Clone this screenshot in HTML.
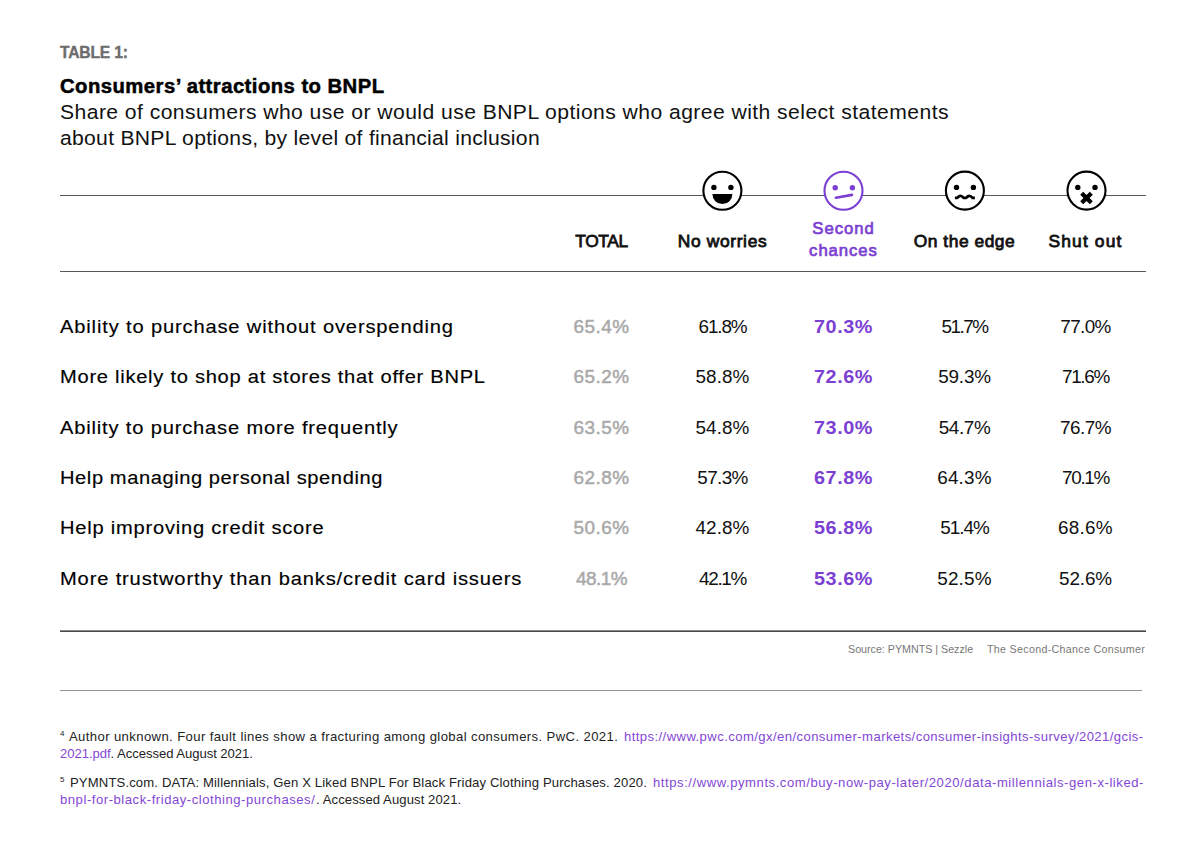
<!DOCTYPE html>
<html>
<head>
<meta charset="utf-8">
<style>
html,body{margin:0;padding:0;background:#fff;}
body{width:1196px;height:858px;position:relative;overflow:hidden;font-family:"Liberation Sans",sans-serif;color:#111;}
.a{position:absolute;white-space:nowrap;line-height:1;}
.b{font-weight:bold;}
.hr{position:absolute;height:1px;}
.c{text-align:center;width:121px;}
.p{color:#7c3fd3;}
.n.p{letter-spacing:0.5px;transform:scaleX(1.05);transform-origin:50% 0;}
.n.g{letter-spacing:0.45px;-webkit-text-stroke:0.5px #a9a9a9;}
.h{-webkit-text-stroke:0.8px #111;}
.h.p{-webkit-text-stroke:0.7px #7c3fd3;}
.g{color:#a9a9a9;}
.row{position:absolute;left:0;width:1196px;height:20px;}
.lbl{position:absolute;left:60px;top:0;font-size:18.3px;letter-spacing:0.7px;line-height:20px;white-space:nowrap;color:#000;-webkit-text-stroke:0.15px #000;transform:scaleX(1.1);transform-origin:0 0;}
.n{position:absolute;top:0;width:121px;text-align:center;font-size:18.9px;line-height:20px;white-space:nowrap;}
.fn{position:absolute;left:60px;font-size:13.1px;line-height:17px;color:#222;white-space:nowrap;letter-spacing:0.2px;}
.fn.sp{font-size:8px;line-height:8px;margin-top:2px;}
.fn a{color:#8347d6;text-decoration:none;}
.j{width:1084px;text-align:justify;text-align-last:justify;}
</style>
</head>
<body>
<div class="a b" id="t1" style="left:60px;top:44px;font-size:17px;letter-spacing:-0.2px;color:#6d6d6d;transform:scaleX(0.92);transform-origin:0 0;-webkit-text-stroke:0.4px #6d6d6d;">TABLE 1:</div>
<div class="a b" id="t2" style="left:60px;top:76px;font-size:20.3px;letter-spacing:0.45px;color:#000;-webkit-text-stroke:0.5px #000;">Consumers’ attractions to BNPL</div>
<div class="a" id="t3a" style="left:60px;top:102px;font-size:20.5px;letter-spacing:0.43px;transform:scaleX(1.03);transform-origin:0 0;color:#111;">Share of consumers who use or would use BNPL options who agree with select statements</div>
<div class="a" id="t3b" style="left:60px;top:128.2px;font-size:20.5px;letter-spacing:0.28px;transform:scaleX(1.03);transform-origin:0 0;color:#111;">about BNPL options, by level of financial inclusion</div>

<div class="hr" style="left:60px;top:195px;width:1086px;background:#58595b;"></div>
<div class="hr" style="left:60px;top:271px;width:1086px;background:#58595b;"></div>
<div class="hr" style="left:60px;top:630px;width:1086px;background:#8a8a8a;"></div>
<div class="hr" style="left:60px;top:631px;width:1086px;background:#4a4a4a;"></div>
<div class="hr" style="left:60px;top:690px;width:1082px;background:#939393;"></div>

<!-- emojis -->
<svg style="position:absolute;left:0;top:0" width="1196" height="230">
  <g transform="translate(722.4,190.8)">
    <circle r="19" fill="#fff" stroke="#000" stroke-width="2.1"/>
    <circle cx="-8.5" cy="-3.4" r="2.7" fill="#000"/>
    <circle cx="8.5" cy="-3.4" r="2.7" fill="#000"/>
    <path d="M-10 3.3 H10 A10 10 0 0 1 0 13.3 A10 10 0 0 1 -10 3.3 Z" fill="#000"/>
  </g>
  <g transform="translate(843.5,190.8)">
    <circle r="19" fill="#fff" stroke="#7c3fd3" stroke-width="2.1"/>
    <circle cx="-8.3" cy="-3.1" r="2.7" fill="#7c3fd3"/>
    <circle cx="8.9" cy="-3.1" r="2.7" fill="#7c3fd3"/>
    <path d="M-7.6 6.9 L8.5 4.1" stroke="#7c3fd3" stroke-width="2.6" stroke-linecap="round" fill="none"/>
  </g>
  <g transform="translate(964.9,190.6)">
    <circle r="19" fill="#fff" stroke="#000" stroke-width="2.1"/>
    <circle cx="-8.4" cy="-3.2" r="2.7" fill="#000"/>
    <circle cx="8.5" cy="-3.2" r="2.7" fill="#000"/>
    <path d="M-10 7.3 L-7.6 7.3 Q-6 5.3 -4.4 5.3 Q-2.8 5.3 -1.3 7.3 L1.3 7.3 Q2.9 5.3 4.5 5.3 Q6.1 5.3 7.6 7.3 L10 7.3" stroke="#000" stroke-width="2.6" stroke-linejoin="round" fill="none"/>
  </g>
  <g transform="translate(1086.5,190.6)">
    <circle r="19" fill="#fff" stroke="#000" stroke-width="2.1"/>
    <circle cx="-8.7" cy="-3.2" r="2.7" fill="#000"/>
    <circle cx="8.5" cy="-3.2" r="2.7" fill="#000"/>
    <path d="M-4.8 2.6 L4.8 12.2 M4.8 2.6 L-4.8 12.2" stroke="#000" stroke-width="4.3" stroke-linecap="butt" fill="none"/>
  </g>
</svg>

<!-- headers -->
<div class="a c h" style="left:541px;top:233px;font-size:17.4px;letter-spacing:-0.4px;">TOTAL</div>
<div class="a c h" style="left:662px;top:233px;font-size:17.4px;letter-spacing:0.65px;">No worries</div>
<div class="a c h p" style="left:783px;top:221px;font-size:16.7px;letter-spacing:0.95px;">Second</div>
<div class="a c h p" style="left:783px;top:243px;font-size:16.7px;letter-spacing:0.95px;">chances</div>
<div class="a c h" style="left:904px;top:233px;font-size:17.4px;letter-spacing:0.52px;">On the edge</div>
<div class="a c h" style="left:1025px;top:233px;font-size:17.4px;letter-spacing:1.15px;">Shut out</div>

<!-- rows -->
<div class="row" style="top:317px;">
  <div class="lbl" style="letter-spacing:0.77px">Ability to purchase without overspending</div>
  <div class="n g" style="left:541px;">65.4%</div>
  <div class="n" style="left:662px;letter-spacing:-1.12px;">61.8%</div>
  <div class="n b p" style="left:783px;">70.3%</div>
  <div class="n" style="left:904px;letter-spacing:-1.47px;">51.7%</div>
  <div class="n" style="left:1025px;letter-spacing:-0.65px;">77.0%</div>
</div>
<div class="row" style="top:367.4px;">
  <div class="lbl" style="letter-spacing:0.66px">More likely to shop at stores that offer BNPL</div>
  <div class="n g" style="left:541px;">65.2%</div>
  <div class="n" style="left:662px;letter-spacing:0.07px;">58.8%</div>
  <div class="n b p" style="left:783px;">72.6%</div>
  <div class="n" style="left:904px;letter-spacing:-0.18px;">59.3%</div>
  <div class="n" style="left:1025px;letter-spacing:-1.30px;">71.6%</div>
</div>
<div class="row" style="top:417.8px;">
  <div class="lbl" style="letter-spacing:0.75px">Ability to purchase more frequently</div>
  <div class="n g" style="left:541px;">63.5%</div>
  <div class="n" style="left:662px;letter-spacing:0.10px;">54.8%</div>
  <div class="n b p" style="left:783px;">73.0%</div>
  <div class="n" style="left:904px;letter-spacing:-0.38px;">54.7%</div>
  <div class="n" style="left:1025px;letter-spacing:-0.50px;">76.7%</div>
</div>
<div class="row" style="top:468.2px;">
  <div class="lbl" style="letter-spacing:0.52px">Help managing personal spending</div>
  <div class="n g" style="left:541px;">62.8%</div>
  <div class="n" style="left:662px;letter-spacing:-0.62px;">57.3%</div>
  <div class="n b p" style="left:783px;">67.8%</div>
  <div class="n" style="left:904px;letter-spacing:0.22px;">64.3%</div>
  <div class="n" style="left:1025px;letter-spacing:-1.35px;">70.1%</div>
</div>
<div class="row" style="top:517.6px;">
  <div class="lbl" style="letter-spacing:0.70px">Help improving credit score</div>
  <div class="n g" style="left:541px;">50.6%</div>
  <div class="n" style="left:662px;letter-spacing:0.10px;">42.8%</div>
  <div class="n b p" style="left:783px;">56.8%</div>
  <div class="n" style="left:904px;letter-spacing:-1.00px;">51.4%</div>
  <div class="n" style="left:1025px;letter-spacing:0.25px;">68.6%</div>
</div>
<div class="row" style="top:569px;">
  <div class="lbl" style="letter-spacing:0.77px">More trustworthy than banks/credit card issuers</div>
  <div class="n g" style="left:541px;letter-spacing:-0.5px;">48.1%</div>
  <div class="n" style="left:662px;letter-spacing:-1.32px;">42.1%</div>
  <div class="n b p" style="left:783px;">53.6%</div>
  <div class="n" style="left:904px;letter-spacing:0.22px;">52.5%</div>
  <div class="n" style="left:1025px;letter-spacing:-0.12px;">52.6%</div>
</div>

<!-- source -->
<div class="a" style="left:848px;top:644px;font-size:10.7px;color:#777;">Source: PYMNTS | Sezzle</div>
<div class="a" style="left:987px;top:644px;font-size:10.7px;letter-spacing:0.3px;color:#777;">The Second-Chance Consumer</div>

<!-- footnotes -->
<div class="fn sp" style="left:60px;top:728px;">4</div>
<div class="fn" style="left:69px;top:728px;letter-spacing:0.39px;">Author unknown. Four fault lines show a fracturing among global consumers. PwC. 2021.</div>
<div class="fn" style="left:624px;top:728px;letter-spacing:0.42px;"><a>https://www.pwc.com/gx/en/consumer-markets/consumer-insights-survey/2021/gcis-</a></div>
<div class="fn" style="left:60px;top:745px;letter-spacing:-0.05px;"><a>2021.pdf</a>. Accessed August 2021.</div>
<div class="fn sp" style="left:60px;top:774px;">5</div>
<div class="fn" style="left:70px;top:774px;letter-spacing:0.14px;">PYMNTS.com. DATA: Millennials, Gen X Liked BNPL For Black Friday Clothing Purchases. 2020.</div>
<div class="fn" style="left:653px;top:774px;letter-spacing:0.55px;"><a>https://www.pymnts.com/buy-now-pay-later/2020/data-millennials-gen-x-liked-</a></div>
<div class="fn" style="left:60px;top:791px;letter-spacing:0.53px;"><a>bnpl-for-black-friday-clothing-purchases/</a></div>
<div class="fn" style="left:316px;top:791px;letter-spacing:0.08px;">. Accessed August 2021.</div>
</body>
</html>
